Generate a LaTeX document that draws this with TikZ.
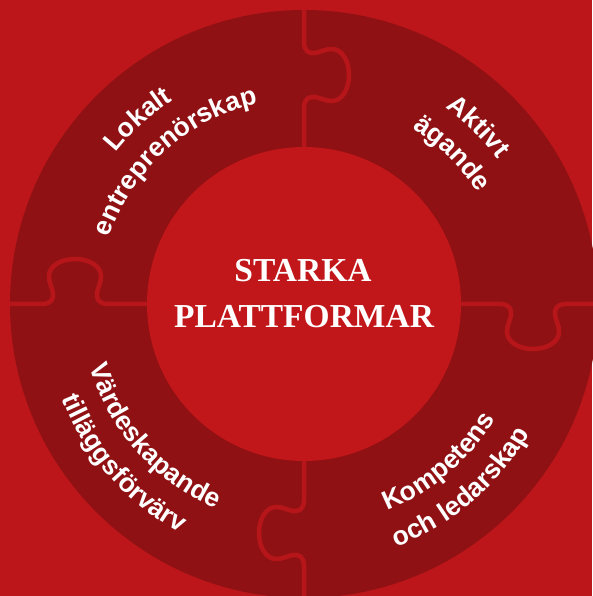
\documentclass[tikz,border=0pt]{standalone}
\usepackage{fontspec}
\usetikzlibrary{decorations.text}
\newfontfamily\ringfont{Liberation Sans}
\newfontfamily\hubfont{Liberation Serif}
\newcommand\ringtext{\ringfont\bfseries\fontsize{26.5}{30}\selectfont}
\definecolor{bgred}{RGB}{189,22,26}
\definecolor{ringred}{RGB}{144,17,20}
\definecolor{hubred}{RGB}{193,22,26}
\definecolor{seamred}{RGB}{182,21,25}

\begin{document}
\begin{tikzpicture}[x=1pt, y=1pt,
    seam/.style={draw=seamred, line width=4.5pt},
    hubtext/.style={text=white, font=\hubfont\bfseries\fontsize{33.5}{40}\selectfont, anchor=base, inner sep=0pt},
    ringlabel/.style={decorate, decoration={text along path, text align=center, text color=white, text={|\ringtext|#1}}}]
    \useasboundingbox (-304,-292) rectangle (288,304);
    \fill[bgred] (-304,-292) rectangle (288,304);
    \fill[ringred] (0,0) circle[radius=294pt];
    \fill[hubred] (0,0) circle[radius=157pt];

    \foreach \a in {0,90,180,270}
        \draw[seam, rotate=\a] (157,0) -- (196,0) .. controls (205,0) and (208,-5) .. (207,-11)
            .. controls (206,-17) and (203,-21) .. (203,-28) .. controls (203,-38) and (215,-45) .. (229,-45)
            .. controls (243,-45) and (255,-38) .. (255,-28) .. controls (255,-21) and (252,-17) .. (251,-11)
            .. controls (250,-5) and (253,0) .. (262,0) -- (294,0);

    \path[ringlabel=Lokalt] (192:242pt) arc[start angle=192, end angle=72, radius=242pt];
    \path[ringlabel=entreprenörskap] (192:206pt) arc[start angle=192, end angle=72, radius=206pt];
    \path[ringlabel=Aktivt] (105.5:242pt) arc[start angle=105.5, end angle=-14.5, radius=242pt];
    \path[ringlabel=ägande] (105.5:206pt) arc[start angle=105.5, end angle=-14.5, radius=206pt];
    \path[ringlabel=Kompetens] (-109.5:223pt) arc[start angle=-109.5, end angle=10.5, radius=223pt];
    \path[ringlabel=och ledarskap] (-109.5:260pt) arc[start angle=-109.5, end angle=10.5, radius=260pt];
    \path[ringlabel=Värdeskapande] (161.5:223pt) arc[start angle=161.5, end angle=281.5, radius=223pt];
    \path[ringlabel=tilläggsförvärv] (161.5:260pt) arc[start angle=161.5, end angle=281.5, radius=260pt];

    \node[hubtext] (starka) at (-1,22) {STARKA};
    \node[hubtext] (plattformar) at (0,-24) {PLATTFORMAR};
\end{tikzpicture}
\end{document}
